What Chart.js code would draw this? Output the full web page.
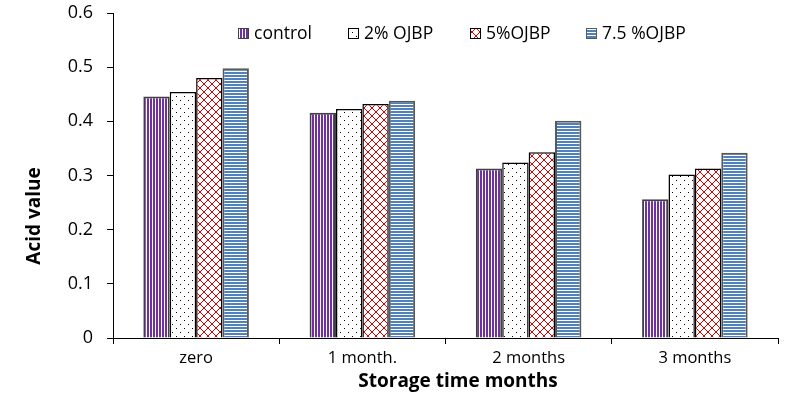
<!DOCTYPE html>
<html><head><meta charset="utf-8">
<script src="https://cdn.jsdelivr.net/npm/chart.js@4"></script>
<style>html,body{margin:0;padding:0;background:#fff}#wrap{width:809px;height:400px}</style>
</head><body><div id="wrap"><canvas id="c" width="809" height="400"></canvas></div>
<script>
const categories = ["zero", "1 month.", "2 months", "3 months"];
const seriesNames = ["control", "2% OJBP", "5%OJBP", "7.5 %OJBP"];
const controlValues = [0.446, 0.416, 0.313, 0.256];
const ojbp2Values = [0.454, 0.423, 0.324, 0.302];
const ojbp5Values = [0.480, 0.432, 0.343, 0.313];
const ojbp75Values = [0.498, 0.438, 0.401, 0.342];
const yTicks = [0, 0.1, 0.2, 0.3, 0.4, 0.5, 0.6];
const yTitle = "Acid value";
const xTitle = "Storage time months";

function makePattern(w, h, draw) {
  const c = document.createElement('canvas');
  c.width = w; c.height = h;
  const g = c.getContext('2d');
  g.fillStyle = '#fff'; g.fillRect(0, 0, w, h);
  draw(g);
  return document.getElementById('c').getContext('2d').createPattern(c, 'repeat');
}
const pVert = makePattern(3, 1, g => { g.fillStyle = '#7030A0'; g.fillRect(0, 0, 2, 1); });
const pDots = makePattern(8, 8, g => { g.fillStyle = '#000'; g.fillRect(0, 0, 1, 1); g.fillRect(4, 4, 1, 1); });
const pCross = makePattern(8, 8, g => {
  g.fillStyle = '#E00000';
  for (let i = 0; i < 8; i++) { g.fillRect(i, i, 1, 1); g.fillRect(7 - i, i, 1, 1); }
});
const pHoriz = makePattern(1, 3, g => { g.fillStyle = '#4F81BD'; g.fillRect(0, 0, 1, 2); });

// Legend drawn inside the plot area; axis titles placed as in the reference
const legendX = [238, 348, 470, 586];
const insideLegend = {
  id: 'insideLegend',
  afterDatasetsDraw(chart) {
    const g = chart.ctx;
    g.save();
    g.font = '17.5px "Open Sans"';
    g.textBaseline = 'middle';
    const y = 33;
    chart.data.datasets.forEach((ds, i) => {
      const x = legendX[i];
      g.fillStyle = ds.backgroundColor;
      g.fillRect(x, y - 5, 10, 10);
      g.strokeStyle = ds.borderColor;
      g.lineWidth = 1;
      g.strokeRect(x + 0.5, y - 4.5, 10, 10);
      g.fillStyle = '#000';
      g.fillText(ds.label, x + 16, y + 1);
    });
    g.font = 'bold 19px "Open Sans"';
    g.textAlign = 'center';
    g.fillText(xTitle, 458, 382);
    g.translate(35, 216);
    g.rotate(-Math.PI / 2);
    g.fillText(yTitle, 0, 0);
    g.restore();
  }
};

const ctx = document.getElementById('c').getContext('2d');
new Chart(ctx, {
  type: 'bar',
  data: {
    labels: categories,
    datasets: [
      { label: seriesNames[0], data: controlValues, backgroundColor: pVert, borderColor: '#404040', borderWidth: 2 },
      { label: seriesNames[1], data: ojbp2Values, backgroundColor: pDots, borderColor: '#000', borderWidth: 1.5 },
      { label: seriesNames[2], data: ojbp5Values, backgroundColor: pCross, borderColor: '#000', borderWidth: 1.5 },
      { label: seriesNames[3], data: ojbp75Values, backgroundColor: pHoriz, borderColor: '#595959', borderWidth: 2 }
    ]
  },
  plugins: [insideLegend],
  options: {
    responsive: false,
    animation: false,
    layout: { padding: { left: 0, right: 31, top: 13, bottom: 0 } },
    datasets: { bar: { barPercentage: 1, categoryPercentage: 0.635 } },
    plugins: {
      legend: { display: false },
      tooltip: { enabled: false }
    },
    scales: {
      x: {
        afterFit: s => { s.height = 62; s.paddingLeft = 0; s.paddingRight = 0; },
        grid: { display: true, drawOnChartArea: false, color: '#000', tickLength: 6, tickColor: '#000' },
        border: { display: true, color: '#000', width: 1 },
        ticks: { color: '#000', font: { family: 'Open Sans', size: 16.5 }, padding: 4 },
        title: { display: false }
      },
      y: {
        min: 0, max: 0.6,
        afterFit: s => { s.width = 113; s.paddingTop = 0; s.paddingBottom = 0; },
        afterBuildTicks: s => { s.ticks = yTicks.map(v => ({ value: v })); },
        grid: { display: true, drawOnChartArea: false, color: '#000', tickLength: 6, tickColor: '#000' },
        border: { display: true, color: '#000', width: 1 },
        ticks: { color: '#000', font: { family: 'Open Sans', size: 18 }, padding: 14, callback: v => String(Math.round(v * 10) / 10) },
        title: { display: false }
      }
    }
  }
});
</script></body></html>
